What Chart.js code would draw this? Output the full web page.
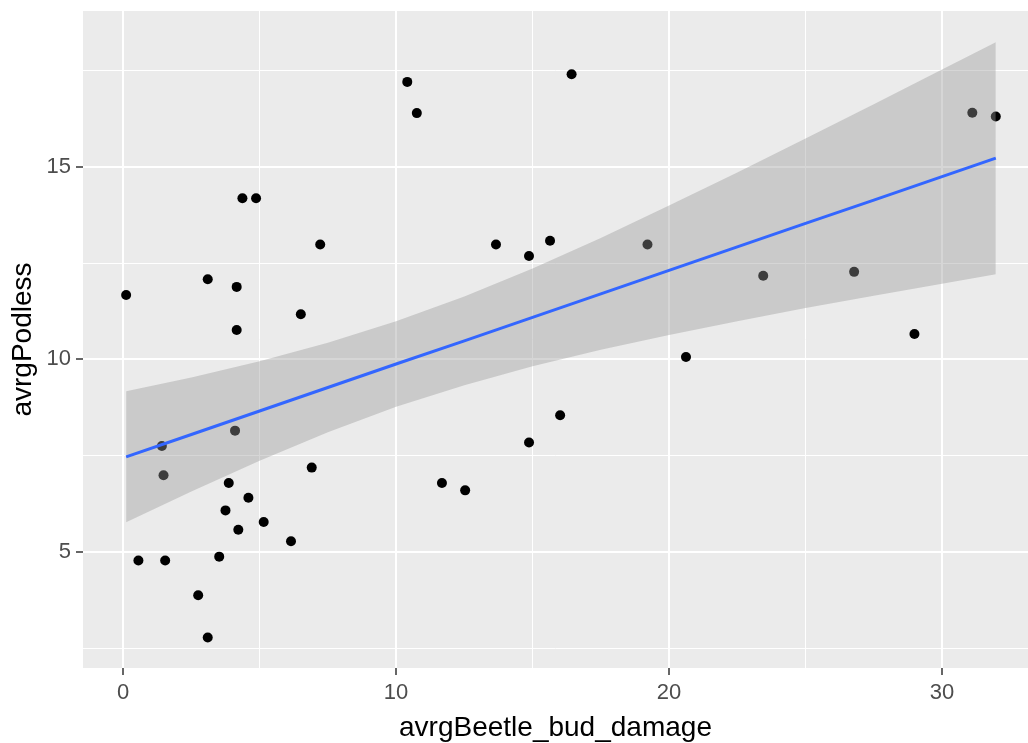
<!DOCTYPE html>
<html>
<head>
<meta charset="utf-8">
<script src="https://cdn.jsdelivr.net/npm/chart.js@4.4.1/dist/chart.umd.min.js"></script>
<style>
  html, body { margin: 0; padding: 0; background: #ffffff; }
  canvas { display: block; }
</style>
</head>
<body>
<canvas id="c" width="1028" height="743"></canvas>
<script>
// Observed points
const beetleDamage = [0.11, 0.56, 1.42, 1.48, 1.54, 2.75, 3.10, 3.10, 3.52, 3.75,
  3.87, 4.10, 4.16, 4.16, 4.22, 4.37, 4.59, 4.87, 5.15, 6.15,
  6.51, 6.91, 7.22, 10.41, 10.76, 11.68, 12.53, 13.66, 14.87, 14.87,
  15.64, 16.01, 16.43, 19.21, 20.62, 23.45, 26.78, 28.99, 31.11, 31.97];
const podless = [11.67, 4.78, 7.75, 6.99, 4.78, 3.88, 2.78, 12.08, 4.88, 6.08,
  6.79, 8.15, 11.88, 10.76, 5.58, 14.18, 6.41, 14.18, 5.78, 5.28,
  11.17, 7.19, 12.98, 17.20, 16.39, 6.79, 6.60, 12.98, 12.68, 7.84,
  13.08, 8.55, 17.40, 12.98, 10.06, 12.17, 12.27, 10.66, 16.40, 16.30];

// Smooth (lm) fit and confidence band
const smoothX     = [0.11, 2.5, 5, 7.5, 10, 12.5, 15, 17.5, 20, 22.5, 25, 27.5, 30, 31.97];
const smoothFit   = [7.47, 8.05, 8.66, 9.27, 9.88, 10.48, 11.09, 11.70, 12.31, 12.92, 13.53, 14.13, 14.74, 15.22];
const smoothLower = [5.77, 6.57, 7.37, 8.11, 8.77, 9.33, 9.82, 10.25, 10.63, 10.99, 11.33, 11.65, 11.96, 12.21];
const smoothUpper = [9.17, 9.53, 9.95, 10.43, 10.99, 11.63, 12.36, 13.15, 13.99, 14.85, 15.73, 16.62, 17.52, 18.23];

// Ticks
const xMajorTicks = [0, 10, 20, 30];
const xMinorTicks = [5, 15, 25];
const yMajorTicks = [5, 10, 15];
const yMinorTicks = [2.5, 7.5, 12.5, 17.5];

const xTitle = 'avrgBeetle_bud_damage';
const yTitle = 'avrgPodless';

const pts = beetleDamage.map((x, i) => ({x: x, y: podless[i]}));
const mk = arr => smoothX.map((x, i) => ({x: x, y: arr[i]}));

const panelBg = {
  id: 'panelBg',
  beforeDraw(chart) {
    const a = chart.chartArea, ctx = chart.ctx;
    ctx.save();
    ctx.fillStyle = '#EBEBEB';
    ctx.fillRect(a.left, a.top, a.right - a.left, a.bottom - a.top);
    ctx.restore();
  }
};

function axisCfg(major, minor, min, max, fitFn, title, titlePad) {
  const all = major.concat(minor).sort((a, b) => a - b);
  const isMajor = v => major.indexOf(v) >= 0;
  return {
    type: 'linear',
    min: min, max: max,
    afterBuildTicks: s => { s.ticks = all.map(v => ({value: v})); },
    afterFit: s => {
      fitFn(s);
      s.paddingLeft = 0; s.paddingRight = 0; s.paddingTop = 0; s.paddingBottom = 0;
    },
    border: {display: false},
    grid: {
      color: '#FFFFFF',
      lineWidth: c => (c.tick && isMajor(c.tick.value)) ? 2 : 1,
      tickLength: 7,
      tickWidth: 1.5,
      tickColor: c => (c.tick && isMajor(c.tick.value)) ? '#333333' : 'rgba(0,0,0,0)'
    },
    ticks: {
      autoSkip: false,
      maxRotation: 0,
      padding: 5,
      color: '#4D4D4D',
      font: {family: '"Liberation Sans", Arial, sans-serif', size: 22},
      callback: v => isMajor(v) ? String(v) : ''
    },
    title: {
      display: true,
      text: title,
      color: '#000000',
      font: {family: '"Liberation Sans", Arial, sans-serif', size: 28, lineHeight: 1},
      padding: titlePad
    }
  };
}

new Chart(document.getElementById('c'), {
  type: 'scatter',
  data: {
    datasets: [
      {
        type: 'scatter', data: pts, order: 3,
        pointRadius: 5, pointHoverRadius: 5,
        backgroundColor: '#000000', borderWidth: 0
      },
      {
        type: 'line', data: mk(smoothLower), order: 2,
        borderWidth: 0, borderColor: 'rgba(0,0,0,0)', pointRadius: 0, fill: false
      },
      {
        type: 'line', data: mk(smoothUpper), order: 2,
        borderWidth: 0, borderColor: 'rgba(0,0,0,0)', pointRadius: 0,
        fill: '-1', backgroundColor: 'rgba(153,153,153,0.4)'
      },
      {
        type: 'line', data: mk(smoothFit), order: 1,
        borderColor: '#3366FF', borderWidth: 3, pointRadius: 0, fill: false,
        tension: 0
      }
    ]
  },
  options: {
    responsive: false,
    animation: false,
    events: [],
    layout: {autoPadding: false, padding: {top: 11, right: 0, left: 0, bottom: 0}},
    plugins: {legend: {display: false}, tooltip: {enabled: false}},
    scales: {
      x: axisCfg(xMajorTicks, xMinorTicks, -1.47, 33.15,
        s => { s.height = 75; }, xTitle, {top: 0, bottom: 1}),
      y: axisCfg(yMajorTicks, yMinorTicks, 1.99, 19.04,
        s => { s.width = 83; }, yTitle, {top: 9, bottom: 0})
    }
  },
  plugins: [panelBg]
});
</script>
</body>
</html>
